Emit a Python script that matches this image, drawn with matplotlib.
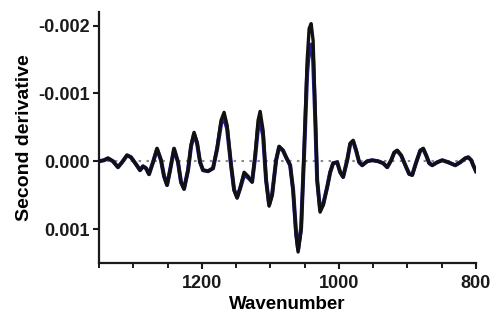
import matplotlib

matplotlib.use("Agg")
import matplotlib.pyplot as plt
from matplotlib.ticker import FixedLocator, FormatStrFormatter, MultipleLocator

plt.rcParams["font.family"] = ["Liberation Sans", "DejaVu Sans"]
plt.rcParams["font.weight"] = "bold"

# second-derivative spectra, values in units of 1e-3
wavenumber = [
    1350, 1342.7, 1336.9, 1329.6, 1322.3, 1316.4, 1309.1, 1303.3, 1296.0, 1290.1,
    1285.8, 1281.4, 1277.0, 1271.2, 1265.3, 1259.5, 1255.1, 1250.7, 1246.3, 1240.5,
    1234.7, 1230.3, 1225.9, 1220.1, 1215.7, 1211.3, 1206.9, 1202.5, 1198.2, 1190.9,
    1183.6, 1177.7, 1171.9, 1167.5, 1163.1, 1157.3, 1152.9, 1148.5, 1144.1, 1138.3,
    1132.5, 1126.6, 1122.2, 1117.9, 1114.9, 1110.6, 1106.2, 1101.8, 1097.4, 1091.6,
    1087.2, 1081.4, 1077.0, 1071.1, 1066.8, 1062.4, 1059.5, 1055.1, 1050.7, 1046.3,
    1043.4, 1040.5, 1037.6, 1034.6, 1031.7, 1027.4, 1023.0, 1017.1, 1012.7, 1008.4,
    1002.5, 998.1, 993.8, 987.9, 983.5, 979.2, 974.8, 970.4, 966.0, 958.7,
    951.4, 942.7, 935.4, 929.5, 923.7, 919.3, 914.9, 909.1, 901.8, 897.4,
    893.0, 887.2, 881.3, 876.9, 872.6, 868.2, 863.8, 856.5, 849.2, 840.5,
    830.2, 823.0, 815.6, 811.3, 806.9, 804.0, 800.0,
]
black_trace = [
    0.000, -0.015, -0.044, 0.000, 0.088, 0.015, -0.088, -0.059, 0.044, 0.132,
    0.074, 0.103, 0.191, 0.015, -0.191, -0.015, 0.221, 0.353, 0.132, -0.191,
    0.015, 0.309, 0.412, 0.132, -0.235, -0.426, -0.279, 0.015, 0.132, 0.147,
    0.103, -0.191, -0.603, -0.721, -0.529, 0.059, 0.426, 0.544, 0.397, 0.162,
    0.221, 0.309, -0.088, -0.603, -0.735, -0.456, 0.279, 0.662, 0.500, -0.015,
    -0.221, -0.162, -0.059, 0.059, 0.426, 1.088, 1.338, 1.015, -0.162, -1.485,
    -1.956, -2.029, -1.779, -0.750, 0.279, 0.750, 0.647, 0.382, 0.162, 0.029,
    0.015, 0.162, 0.235, -0.015, -0.265, -0.309, -0.162, 0.015, 0.059, 0.000,
    -0.015, 0.000, 0.029, 0.088, -0.015, -0.132, -0.162, -0.088, 0.088, 0.191,
    0.206, 0.015, -0.162, -0.191, -0.088, 0.029, 0.059, 0.015, -0.015, 0.015,
    0.059, 0.015, -0.044, -0.059, -0.015, 0.059, 0.147,
]
blue_trace = [
    0.000, -0.015, -0.044, 0.000, 0.088, 0.015, -0.088, -0.059, 0.044, 0.132,
    0.074, 0.103, 0.191, 0.015, -0.180, -0.015, 0.221, 0.350, 0.132, -0.180,
    0.015, 0.309, 0.405, 0.132, -0.220, -0.400, -0.265, 0.015, 0.132, 0.147,
    0.103, -0.180, -0.550, -0.650, -0.480, 0.059, 0.420, 0.530, 0.400, 0.200,
    0.240, 0.300, -0.060, -0.500, -0.600, -0.380, 0.279, 0.640, 0.490, -0.015,
    -0.210, -0.155, -0.059, 0.059, 0.420, 1.060, 1.300, 0.980, -0.120, -1.300,
    -1.660, -1.720, -1.500, -0.650, 0.279, 0.720, 0.640, 0.382, 0.162, 0.029,
    0.015, 0.162, 0.230, -0.015, -0.255, -0.295, -0.155, 0.015, 0.059, 0.000,
    -0.015, 0.000, 0.029, 0.088, -0.015, -0.125, -0.155, -0.085, 0.088, 0.185,
    0.200, 0.015, -0.155, -0.180, -0.085, 0.029, 0.059, 0.015, -0.015, 0.015,
    0.059, 0.015, -0.044, -0.059, -0.015, 0.059, 0.147,
]

x_major = [1200, 1000, 800]
y_major = [-0.002, -0.001, 0.000, 0.001]

fig = plt.figure(figsize=(4.91, 3.22), dpi=100)
ax = fig.add_axes([0.2016, 0.1832, 0.7678, 0.7795])

ax.axhline(0, color="#8a8a8a", lw=1.5, ls=(0, (1.2, 2.6)), zorder=1)
ax.plot(wavenumber, [v * 1e-3 for v in blue_trace], color="#1f1f96", lw=2.9,
        solid_joinstyle="round", zorder=2)
ax.plot(wavenumber, [v * 1e-3 for v in black_trace], color="#111111", lw=2.4,
        solid_joinstyle="round", zorder=3)

ax.set_xlim(1350, 800)
ax.set_ylim(0.0015, -0.0022)

ax.xaxis.set_major_locator(FixedLocator(x_major))
ax.xaxis.set_minor_locator(MultipleLocator(50))
ax.yaxis.set_major_locator(FixedLocator(y_major))
ax.yaxis.set_major_formatter(FormatStrFormatter("%.3f"))

for side in ("top", "right"):
    ax.spines[side].set_visible(False)
for side in ("left", "bottom"):
    ax.spines[side].set_linewidth(1.6)
    ax.spines[side].set_color("#1a1a1a")

ax.tick_params(axis="both", which="major", length=4.5, width=1.5, labelsize=13,
               color="#1a1a1a", labelcolor="#1a1a1a")
ax.tick_params(axis="x", which="major", pad=4)
ax.tick_params(axis="y", which="major", pad=2)
ax.tick_params(axis="x", which="minor", length=3.5, width=1.4, color="#1a1a1a")

ax.set_xlabel("Wavenumber", fontsize=13.5, fontweight="bold", labelpad=3)
ax.set_ylabel("Second derivative", fontsize=14, fontweight="bold", labelpad=4)

fig.savefig("out.png", dpi=100)
plt.close(fig)
